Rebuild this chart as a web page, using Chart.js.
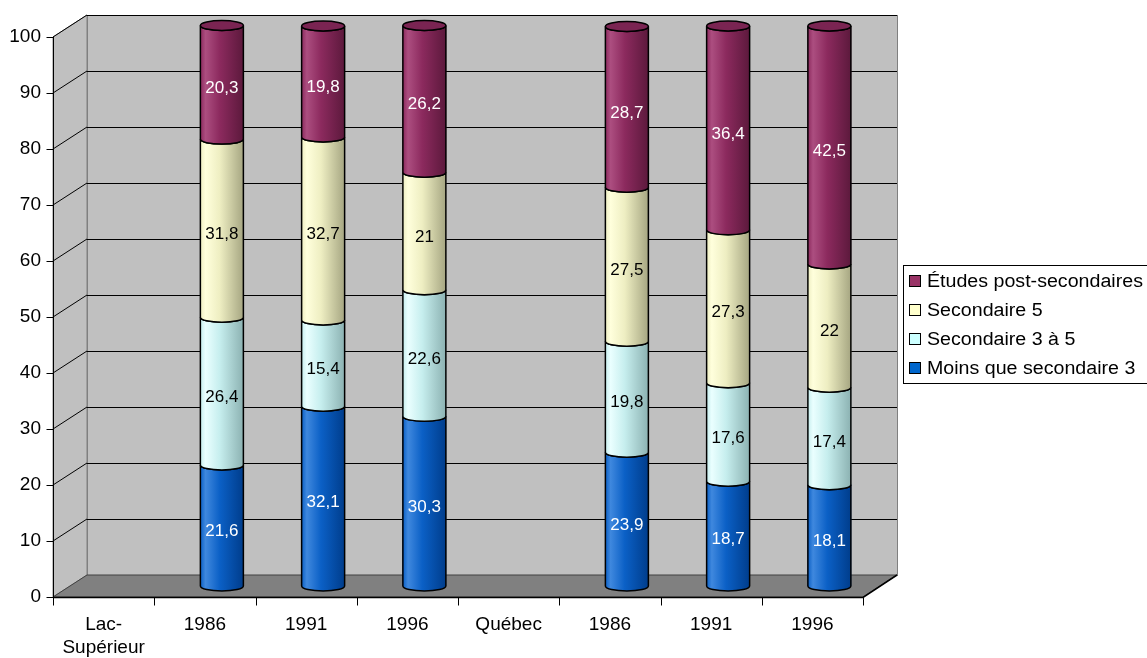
<!DOCTYPE html>
<html>
<head>
<meta charset="utf-8">
<script src="https://cdn.jsdelivr.net/npm/chart.js@4.4.1/dist/chart.umd.min.js"></script>
<style>
    html, body { margin: 0; padding: 0; background: #fff; }
    #wrap { width: 1147px; height: 658px; }
</style>
</head>
<body>
<div id="wrap"><canvas id="chart" width="1147" height="658"></canvas></div>
<script>
// Data
const categories = [['Lac-', 'Supérieur'], '1986', '1991', '1996', 'Québec', '1986', '1991', '1996'];
const moinsSec3 = [null, 21.6, 32.1, 30.3, null, 23.9, 18.7, 18.1];
const sec3a5 = [null, 26.4, 15.4, 22.6, null, 19.8, 17.6, 17.4];
const sec5 = [null, 31.8, 32.7, 21, null, 27.5, 27.3, 22];
const postSec = [null, 20.3, 19.8, 26.2, null, 28.7, 36.4, 42.5];
const seriesNames = ['Moins que secondaire 3', 'Secondaire 3 à 5', 'Secondaire 5', 'Études post-secondaires'];

// Styles
const FONT = '"Liberation Sans", Arial, sans-serif';
const DX = 17, DY = 11;      // half of the 3D depth offset
const RY = 5;                // vertical radius of the cylinder ellipses
const legendColors = ['#0066cc', '#ccffff', '#ffffcc', '#993366'];
const shades = [
    { light: '#3f88de', base: '#0b60c6', dark: '#003d8c', text: '#ffffff' },
    { light: '#eaffff', base: '#c6eeee', dark: '#8cb2b2', text: '#000000' },
    { light: '#ffffdc', base: '#eeeec2', dark: '#a6a682', text: '#000000' },
    { light: '#ac4e80', base: '#8c2a5e', dark: '#5c193c', text: '#ffffff', top: '#7a2452' }
];

const fmt = v => String(v).replace('.', ',');

const wallsPlugin = {
    id: 'walls',
    beforeDatasetsDraw(chart) {
        const ctx = chart.ctx;
        const { left, right } = chart.chartArea;
        const ys = chart.scales.y;
        const fl = left - DX, bl = left + DX, fr = right - DX, br = right + DX;
        const yF = v => ys.getPixelForValue(v) + DY;
        const yB = v => ys.getPixelForValue(v) - DY;

        ctx.save();
        ctx.lineWidth = 1;
        // back wall
        ctx.fillStyle = '#c0c0c0';
        ctx.strokeStyle = '#808080';
        ctx.fillRect(bl, yB(100), br - bl, yB(0) - yB(100));
        ctx.strokeRect(bl + 0.5, yB(100) + 0.5, br - bl, yB(0) - yB(100));
        // side wall
        ctx.beginPath();
        ctx.moveTo(fl, yF(100));
        ctx.lineTo(bl, yB(100));
        ctx.lineTo(bl, yB(0));
        ctx.lineTo(fl, yF(0));
        ctx.closePath();
        ctx.fill();
        ctx.stroke();
        // floor
        ctx.fillStyle = '#808080';
        ctx.beginPath();
        ctx.moveTo(fl, yF(0));
        ctx.lineTo(bl, yB(0));
        ctx.lineTo(br, yB(0));
        ctx.lineTo(fr, yF(0));
        ctx.closePath();
        ctx.fill();
        ctx.strokeStyle = '#404040';
        ctx.stroke();

        // gridlines
        ctx.strokeStyle = '#000000';
        ys.ticks.forEach(t => {
            if (t.value === 0) return;
            const yb = Math.round(yB(t.value)) + 0.5;
            ctx.beginPath();
            ctx.moveTo(bl, yb);
            ctx.lineTo(br, yb);
            ctx.stroke();
            ctx.beginPath();
            ctx.moveTo(fl, yF(t.value));
            ctx.lineTo(bl, yB(t.value));
            ctx.stroke();
        });

        // front axes
        const x0 = Math.round(fl) + 0.5;
        ctx.beginPath();
        ctx.moveTo(x0, yF(100));
        ctx.lineTo(x0, yF(0));
        ctx.stroke();
        ys.ticks.forEach(t => {
            const y = Math.round(yF(t.value)) + 0.5;
            ctx.beginPath();
            ctx.moveTo(x0 - 7, y);
            ctx.lineTo(x0, y);
            ctx.stroke();
        });
        const yb0 = Math.round(yF(0)) + 0.5;
        ctx.lineWidth = 1.5;
        ctx.beginPath();
        ctx.moveTo(fl, yb0);
        ctx.lineTo(fr, yb0);
        ctx.lineTo(br, yB(0));
        ctx.stroke();
        ctx.lineWidth = 1;
        const n = categories.length;
        for (let i = 0; i <= n; i++) {
            const x = Math.round(fl + (fr - fl) * i / n) + 0.5;
            ctx.beginPath();
            ctx.moveTo(x, yb0);
            ctx.lineTo(x, yb0 + 8);
            ctx.stroke();
        }
        ctx.restore();
    },
    afterDatasetsDraw(chart) {
        const ctx = chart.ctx;
        ctx.save();
        const nSets = chart.data.datasets.length;
        for (let d = 0; d < nSets; d++) {
            const meta = chart.getDatasetMeta(d);
            const sh = shades[d];
            meta.data.forEach((bar, j) => {
                const v = chart.data.datasets[d].data[j];
                if (v == null) return;
                const { x, y, base, width } = bar.getProps(['x', 'y', 'base', 'width'], true);
                const rx = width / 2;
                const g = ctx.createLinearGradient(x - rx, 0, x + rx, 0);
                g.addColorStop(0, sh.base);
                g.addColorStop(0.12, sh.light);
                g.addColorStop(0.45, sh.base);
                g.addColorStop(1, sh.dark);
                ctx.beginPath();
                ctx.moveTo(x - rx, y);
                ctx.lineTo(x - rx, base);
                ctx.ellipse(x, base, rx, RY, 0, Math.PI, 0, true);
                ctx.lineTo(x + rx, y);
                ctx.ellipse(x, y, rx, RY, 0, 0, Math.PI, false);
                ctx.closePath();
                ctx.fillStyle = g;
                ctx.fill();
                ctx.strokeStyle = '#000000';
                ctx.lineWidth = 1.5;
                ctx.stroke();

                if (d === nSets - 1) {
                    ctx.beginPath();
                    ctx.ellipse(x, y, rx, RY, 0, 0, Math.PI * 2);
                    ctx.fillStyle = sh.top;
                    ctx.fill();
                    ctx.stroke();
                }

                ctx.fillStyle = sh.text;
                ctx.font = '17px ' + FONT;
                ctx.textAlign = 'center';
                ctx.textBaseline = 'middle';
                ctx.fillText(fmt(v), x, (y + base) / 2 + 6);
            });
        }
        ctx.restore();
    },
    afterDraw(chart) {
        // legend with frame, series listed top-down
        const ctx = chart.ctx;
        ctx.save();
        ctx.fillStyle = '#ffffff';
        ctx.fillRect(903, 265, 250, 118);
        ctx.strokeStyle = '#000000';
        ctx.lineWidth = 1;
        ctx.strokeRect(903.5, 265.5, 250, 118);
        ctx.font = '18px ' + FONT;
        ctx.textBaseline = 'middle';
        ctx.textAlign = 'left';
        for (let k = 0; k < seriesNames.length; k++) {
            const idx = seriesNames.length - 1 - k;
            const cy = 281 + k * 29;
            ctx.fillStyle = legendColors[idx];
            ctx.fillRect(909, cy - 6, 12, 12);
            ctx.strokeRect(909.5, cy - 5.5, 11, 11);
            ctx.fillStyle = '#000000';
            ctx.save();
            ctx.translate(927, cy + 1);
            ctx.scale(1.09, 1);
            ctx.fillText(seriesNames[idx], 0, 0);
            ctx.restore();
        }
        ctx.restore();
    }
};

const seriesData = [moinsSec3, sec3a5, sec5, postSec];

new Chart(document.getElementById('chart'), {
    type: 'bar',
    data: {
        labels: categories,
        datasets: seriesData.map((values, i) => ({
            label: seriesNames[i],
            data: values,
            backgroundColor: shades[i].base,
            borderWidth: 0,
            barThickness: 43
        }))
    },
    options: {
        responsive: false,
        animation: false,
        devicePixelRatio: 1,
        layout: { padding: { top: 26, right: 267, left: 0, bottom: 0 } },
        plugins: {
            legend: { display: false },
            tooltip: { enabled: false }
        },
        scales: {
            x: {
                stacked: true,
                grid: { display: false, drawTicks: false },
                border: { display: false },
                ticks: {
                    color: '#000000',
                    font: { family: FONT, size: 19, lineHeight: 1.22 },
                    padding: 27,
                    labelOffset: -DX,
                    maxRotation: 0,
                    autoSkip: false
                },
                afterFit: scale => {
                    scale.height = 72;
                    scale.paddingLeft = 0;
                    scale.paddingRight = 0;
                }
            },
            y: {
                stacked: true,
                min: 0,
                max: 100,
                grid: { display: false, drawTicks: false },
                border: { display: false },
                ticks: {
                    stepSize: 10,
                    color: '#000000',
                    font: { family: FONT, size: 19 },
                    padding: 29,
                    labelOffset: DY
                },
                afterFit: scale => {
                    scale.width = 70;
                    scale.paddingTop = 0;
                    scale.paddingBottom = 0;
                }
            }
        }
    },
    plugins: [wallsPlugin]
});
</script>
</body>
</html>
